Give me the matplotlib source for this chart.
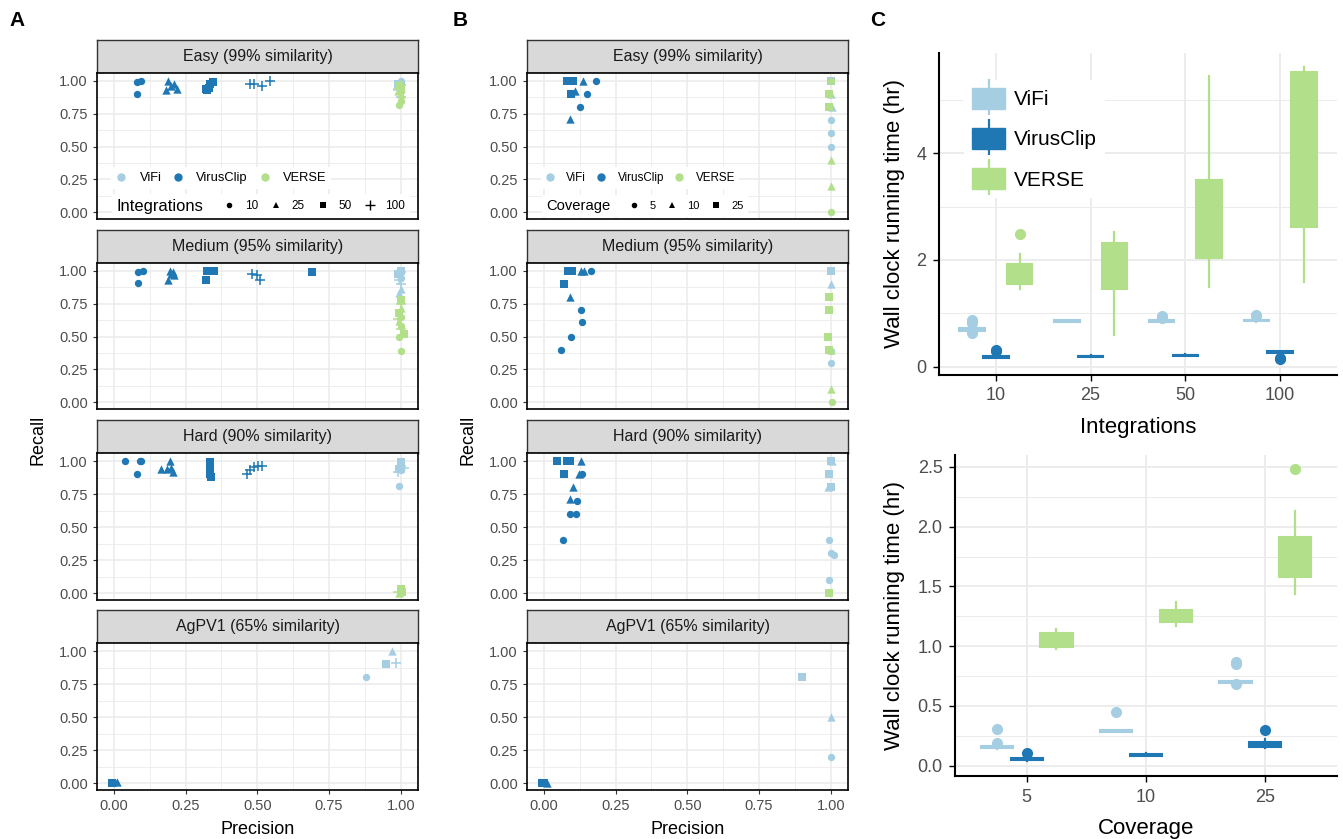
import numpy as np
import matplotlib.pyplot as plt
from matplotlib.lines import Line2D
from matplotlib.patches import Patch
from matplotlib.legend_handler import HandlerTuple
from matplotlib.offsetbox import HPacker

plt.rcParams['font.family'] = ['Liberation Sans', 'DejaVu Sans']

tools = ["ViFi", "VirusClip", "VERSE"]
tool_colors = ["#A6CEE3", "#1F78B4", "#B2DF8A"]
facet_titles = ["Easy (99% similarity)", "Medium (95% similarity)",
                "Hard (90% similarity)", "AgPV1 (65% similarity)"]

# panel A: (tool, integrations, precision, recall)
int_levels = [10, 25, 50, 100]
int_shapes = ['o', '^', 's', '+']
int_easy = [
    ("ViFi", 10, 1.0, 1.0), ("ViFi", 10, 0.99, 0.97), ("ViFi", 10, 1.0, 0.92),
    ("ViFi", 25, 0.995, 0.99), ("ViFi", 25, 1.0, 0.95),
    ("ViFi", 50, 0.99, 0.98), ("ViFi", 50, 1.0, 0.96),
    ("ViFi", 100, 1.0, 0.97), ("ViFi", 100, 0.99, 0.93), ("ViFi", 100, 1.0, 0.88),
    ("VirusClip", 10, 0.08, 0.99), ("VirusClip", 10, 0.095, 1.0), ("VirusClip", 10, 0.08, 0.90),
    ("VirusClip", 25, 0.19, 1.0), ("VirusClip", 25, 0.21, 0.98), ("VirusClip", 25, 0.18, 0.93),
    ("VirusClip", 25, 0.22, 0.94), ("VirusClip", 25, 0.20, 0.96),
    ("VirusClip", 50, 0.32, 0.94), ("VirusClip", 50, 0.335, 0.98), ("VirusClip", 50, 0.345, 0.99),
    ("VirusClip", 50, 0.33, 0.95), ("VirusClip", 50, 0.325, 0.93),
    ("VirusClip", 100, 0.475, 0.975), ("VirusClip", 100, 0.49, 0.975),
    ("VirusClip", 100, 0.515, 0.96), ("VirusClip", 100, 0.545, 1.0),
    ("VERSE", 10, 1.0, 0.95), ("VERSE", 10, 0.995, 0.82), ("VERSE", 10, 1.0, 0.85),
    ("VERSE", 25, 1.0, 0.90), ("VERSE", 25, 0.99, 0.92),
    ("VERSE", 50, 1.0, 0.93), ("VERSE", 50, 0.995, 0.96),
    ("VERSE", 100, 1.0, 0.97), ("VERSE", 100, 0.99, 0.94),
]
int_medium = [
    ("ViFi", 10, 1.0, 1.0), ("ViFi", 10, 0.995, 0.97), ("ViFi", 10, 1.0, 0.95),
    ("ViFi", 25, 1.0, 0.86), ("ViFi", 25, 0.995, 0.83),
    ("ViFi", 50, 1.0, 1.0), ("ViFi", 50, 0.99, 0.98),
    ("ViFi", 100, 1.0, 0.99), ("ViFi", 100, 0.995, 0.93), ("ViFi", 100, 1.0, 0.90),
    ("VirusClip", 10, 0.085, 0.99), ("VirusClip", 10, 0.10, 1.0), ("VirusClip", 10, 0.083, 0.91),
    ("VirusClip", 25, 0.195, 1.0), ("VirusClip", 25, 0.20, 0.98), ("VirusClip", 25, 0.19, 0.93),
    ("VirusClip", 25, 0.21, 0.97), ("VirusClip", 25, 0.205, 0.99),
    ("VirusClip", 50, 0.325, 1.0), ("VirusClip", 50, 0.35, 1.0), ("VirusClip", 50, 0.32, 0.93),
    ("VirusClip", 50, 0.69, 0.99),
    ("VirusClip", 100, 0.48, 0.975), ("VirusClip", 100, 0.50, 0.97), ("VirusClip", 100, 0.51, 0.935),
    ("VERSE", 10, 1.0, 0.58), ("VERSE", 10, 0.995, 0.50), ("VERSE", 10, 1.0, 0.39), ("VERSE", 10, 1.0, 0.65),
    ("VERSE", 25, 1.0, 0.72), ("VERSE", 25, 0.995, 0.62),
    ("VERSE", 50, 1.0, 0.78), ("VERSE", 50, 0.995, 0.68), ("VERSE", 50, 1.01, 0.52),
    ("VERSE", 100, 1.0, 0.75), ("VERSE", 100, 0.99, 0.63), ("VERSE", 100, 1.0, 0.56),
]
int_hard = [
    ("ViFi", 10, 1.0, 1.0), ("ViFi", 10, 0.995, 0.81), ("ViFi", 10, 1.0, 0.93),
    ("ViFi", 25, 1.0, 0.97), ("ViFi", 25, 0.99, 0.95),
    ("ViFi", 50, 1.0, 0.99), ("ViFi", 50, 0.995, 0.94),
    ("ViFi", 100, 1.0, 0.96), ("ViFi", 100, 0.99, 0.92), ("ViFi", 100, 1.01, 0.95),
    ("VirusClip", 10, 0.04, 1.0), ("VirusClip", 10, 0.09, 1.0), ("VirusClip", 10, 0.095, 1.0),
    ("VirusClip", 10, 0.08, 0.90),
    ("VirusClip", 25, 0.165, 0.94), ("VirusClip", 25, 0.195, 1.0), ("VirusClip", 25, 0.185, 0.94),
    ("VirusClip", 25, 0.20, 0.95), ("VirusClip", 25, 0.205, 0.92),
    ("VirusClip", 50, 0.335, 0.99), ("VirusClip", 50, 0.335, 0.96), ("VirusClip", 50, 0.335, 0.93),
    ("VirusClip", 50, 0.335, 0.90), ("VirusClip", 50, 0.337, 0.88),
    ("VirusClip", 100, 0.463, 0.905), ("VirusClip", 100, 0.474, 0.935), ("VirusClip", 100, 0.49, 0.955),
    ("VirusClip", 100, 0.503, 0.96), ("VirusClip", 100, 0.515, 0.965),
    ("VERSE", 10, 1.0, 0.0), ("VERSE", 25, 1.0, 0.02), ("VERSE", 25, 0.995, 0.0),
    ("VERSE", 50, 1.0, 0.03), ("VERSE", 50, 1.005, 0.01), ("VERSE", 100, 0.99, 0.01),
]
int_agpv = [
    ("ViFi", 10, 0.88, 0.80), ("ViFi", 25, 0.97, 1.0), ("ViFi", 50, 0.95, 0.90), ("ViFi", 100, 0.985, 0.91),
    ("VirusClip", 10, 0.0, 0.0), ("VirusClip", 25, 0.01, 0.01), ("VirusClip", 50, -0.005, 0.0),
]

# panel B: (tool, coverage, precision, recall)
cov_levels = [5, 10, 25]
cov_shapes = ['o', '^', 's']
cov_easy = [
    ("ViFi", 25, 1.0, 1.0), ("ViFi", 10, 1.0, 0.9), ("ViFi", 10, 1.005, 0.8),
    ("ViFi", 5, 1.0, 0.7), ("ViFi", 5, 1.0, 0.6), ("ViFi", 5, 1.0, 0.5),
    ("VirusClip", 25, 0.08, 1.0), ("VirusClip", 25, 0.10, 1.0), ("VirusClip", 25, 0.093, 0.9),
    ("VirusClip", 10, 0.135, 1.0), ("VirusClip", 10, 0.108, 0.92), ("VirusClip", 10, 0.091, 0.71),
    ("VirusClip", 5, 0.18, 1.0), ("VirusClip", 5, 0.149, 0.9), ("VirusClip", 5, 0.126, 0.8),
    ("VERSE", 5, 1.0, 1.0), ("VERSE", 5, 1.0, 0.0), ("VERSE", 25, 0.995, 0.9),
    ("VERSE", 25, 0.995, 0.8), ("VERSE", 10, 1.0, 0.4), ("VERSE", 10, 1.0, 0.2),
]
cov_medium = [
    ("ViFi", 25, 1.0, 1.0), ("ViFi", 10, 1.0, 0.9), ("ViFi", 5, 1.0, 0.3), ("ViFi", 5, 1.0, 0.39),
    ("VirusClip", 25, 0.085, 1.0), ("VirusClip", 25, 0.097, 1.0), ("VirusClip", 25, 0.071, 0.9),
    ("VirusClip", 10, 0.129, 1.0), ("VirusClip", 10, 0.138, 1.0), ("VirusClip", 10, 0.091, 0.8),
    ("VirusClip", 5, 0.164, 1.0), ("VirusClip", 5, 0.129, 0.7), ("VirusClip", 5, 0.133, 0.61),
    ("VirusClip", 5, 0.094, 0.5), ("VirusClip", 5, 0.059, 0.4),
    ("VERSE", 25, 0.995, 0.8), ("VERSE", 25, 0.995, 0.7), ("VERSE", 25, 0.99, 0.5),
    ("VERSE", 25, 0.995, 0.4), ("VERSE", 10, 1.0, 0.4), ("VERSE", 10, 1.0, 0.1), ("VERSE", 5, 1.005, 0.0),
]
cov_hard = [
    ("ViFi", 25, 1.0, 1.0), ("ViFi", 25, 0.995, 0.9), ("ViFi", 25, 1.0, 0.8),
    ("ViFi", 10, 1.005, 1.0), ("ViFi", 10, 0.99, 0.8),
    ("ViFi", 5, 0.995, 0.4), ("ViFi", 5, 1.0, 0.3), ("ViFi", 5, 1.01, 0.29), ("ViFi", 5, 0.995, 0.1),
    ("VirusClip", 25, 0.044, 1.0), ("VirusClip", 25, 0.079, 1.0), ("VirusClip", 25, 0.091, 1.0),
    ("VirusClip", 25, 0.071, 0.9),
    ("VirusClip", 10, 0.129, 1.0), ("VirusClip", 10, 0.124, 0.9), ("VirusClip", 10, 0.10, 0.8),
    ("VirusClip", 10, 0.091, 0.71),
    ("VirusClip", 5, 0.132, 0.9), ("VirusClip", 5, 0.117, 0.7), ("VirusClip", 5, 0.111, 0.6),
    ("VirusClip", 5, 0.091, 0.6), ("VirusClip", 5, 0.065, 0.4),
    ("VERSE", 25, 0.995, 0.0),
]
cov_agpv = [
    ("ViFi", 25, 0.9, 0.8), ("ViFi", 10, 1.0, 0.5), ("ViFi", 5, 1.0, 0.2),
    ("VirusClip", 25, -0.008, 0.0), ("VirusClip", 25, 0.0, 0.0), ("VirusClip", 10, 0.01, 0.0),
]

# panel C: run times, (whislo, q1, med, q3, whishi) per level, plus outliers
time_int_vifi = [(0.67, 0.68, 0.70, 0.72, 0.73), (0.845, 0.85, 0.86, 0.87, 0.875),
                 (0.845, 0.85, 0.86, 0.87, 0.88), (0.85, 0.86, 0.87, 0.88, 0.89)]
time_int_vifi_out = [[0.88, 0.83, 0.63], [], [0.92, 0.95], [0.95, 0.97]]
time_int_vclip = [(0.16, 0.17, 0.19, 0.21, 0.22), (0.18, 0.19, 0.20, 0.21, 0.22),
                  (0.20, 0.21, 0.22, 0.23, 0.24), (0.25, 0.26, 0.28, 0.29, 0.30)]
time_int_vclip_out = [[0.31, 0.29], [], [], [0.14, 0.16]]
time_int_verse = [(1.45, 1.56, 1.75, 1.92, 2.12), (0.59, 1.45, 1.90, 2.32, 2.53),
                  (1.49, 2.04, 2.60, 3.50, 5.44), (1.59, 2.62, 3.80, 5.52, 5.60)]
time_int_verse_out = [[2.48], [], [], []]

time_cov_vifi = [(0.14, 0.145, 0.155, 0.165, 0.17), (0.28, 0.285, 0.29, 0.295, 0.30),
                 (0.69, 0.69, 0.70, 0.71, 0.71)]
time_cov_vifi_out = [[0.31, 0.19], [0.45], [0.85, 0.87, 0.68]]
time_cov_vclip = [(0.04, 0.045, 0.055, 0.065, 0.07), (0.08, 0.08, 0.09, 0.10, 0.11),
                  (0.15, 0.16, 0.18, 0.20, 0.22)]
time_cov_vclip_out = [[0.11], [], [0.30]]
time_cov_verse = [(0.98, 0.99, 1.05, 1.11, 1.14), (1.17, 1.20, 1.25, 1.30, 1.37),
                  (1.44, 1.575, 1.75, 1.915, 2.13)]
time_cov_verse_out = [[], [], [2.48]]

W, H = 1343, 839
fig = plt.figure(figsize=(W / 100, H / 100), dpi=100)


def px_box(l, t, r, b):
    return [l / W, 1 - b / H, (r - l) / W, (b - t) / H]


# strip top, panel top, panel bottom (pixels)
rows = [(40, 73, 219), (230, 263, 409), (420, 453, 600), (610, 643, 790)]
GRID = '#EBEBEB'
TICK_TXT = '#4D4D4D'


def side_legends(ax, levels, shapes, title, fs_tool, fs_lev, fs_title, x0, sep):
    h = [Line2D([], [], marker='o', ls='none', color=c, markersize=5) for c in tool_colors]
    leg1 = ax.legend(h, tools, loc='center left', bbox_to_anchor=(x0, 0.28), ncol=3,
                     fontsize=fs_tool, handlelength=0.8, handletextpad=1.0, columnspacing=0.9,
                     borderpad=0.4, fancybox=False, edgecolor='none', facecolor='white',
                     framealpha=1)
    ax.add_artist(leg1)
    sizes = {'o': 4, '^': 4.5, 's': 4, '+': 7}
    h2 = [Line2D([], [], marker=mk, ls='none', color='black', markersize=sizes[mk],
                 markeredgewidth=1.0 if mk == '+' else 0) for mk in shapes]
    leg2 = ax.legend(h2, [str(l) for l in levels], title=title, title_fontsize=fs_title,
                     loc='center left', bbox_to_anchor=(x0 + 0.004, 0.089), ncol=len(levels),
                     fontsize=fs_lev, handlelength=0.8, handletextpad=0.95, columnspacing=1.1,
                     borderpad=0.4, fancybox=False, edgecolor='none', facecolor='white',
                     framealpha=1)
    # title to the left of the keys rather than above them
    box = HPacker(pad=leg2.borderpad * leg2._fontsize, sep=sep, align='center',
                  children=[leg2._legend_title_box, leg2._legend_handle_box])
    box.set_figure(fig)
    box.axes = ax
    leg2._legend_box = box
    box.set_offset(leg2._findoffset)


def draw_column(left, right, facets, levels, shapes, title, legend_fonts, x0, sep, label_x):
    ticks = [0, 0.25, 0.5, 0.75, 1.0]
    for i, ((st, pt, pb), data) in enumerate(zip(rows, facets)):
        sax = fig.add_axes(px_box(left, st, right, pt))
        sax.set_facecolor('#D9D9D9')
        sax.set_xticks([])
        sax.set_yticks([])
        for s in sax.spines.values():
            s.set_color('#333333')
            s.set_linewidth(1.0)
        sax.text(0.5, 0.5, facet_titles[i], ha='center', va='center', fontsize=11.5,
                 color='#1A1A1A', transform=sax.transAxes)

        ax = fig.add_axes(px_box(left, pt, right, pb))
        ax.set_xlim(-0.059, 1.06)
        ax.set_ylim(-0.053, 1.061)
        ax.set_xticks(ticks)
        ax.set_yticks(ticks)
        ax.set_xticks([0.125, 0.375, 0.625, 0.875], minor=True)
        ax.set_yticks([0.125, 0.375, 0.625, 0.875], minor=True)
        ax.set_xticklabels(['0.00', '0.25', '0.50', '0.75', '1.00'])
        ax.set_yticklabels(['0.00', '0.25', '0.50', '0.75', '1.00'])
        ax.grid(which='major', color=GRID, lw=1.1)
        ax.grid(which='minor', color=GRID, lw=0.6)
        ax.set_axisbelow(True)
        ax.tick_params(which='minor', length=0)
        ax.tick_params(which='major', length=3, width=0.8, color='#333333',
                       labelsize=10.5, labelcolor=TICK_TXT)
        ax.tick_params(axis='x', bottom=(i == 3), labelbottom=(i == 3))
        for s in ax.spines.values():
            s.set_color('black')
            s.set_linewidth(1.2)
        for tool, col in zip(tools, tool_colors):
            for lev, mk in zip(levels, shapes):
                pts = [(p, r) for t, l, p, r in data if t == tool and l == lev]
                if not pts:
                    continue
                p, r = zip(*pts)
                if mk == '+':
                    ax.scatter(p, r, marker='+', s=60, color=col, linewidths=1.1, zorder=3)
                else:
                    ax.scatter(p, r, marker=mk, s={'o': 28, '^': 36, 's': 28}[mk],
                               color=col, linewidths=0, zorder=3)
        if i == 0:
            side_legends(ax, levels, shapes, title, *legend_fonts, x0, sep)
    fig.text(label_x / W, 1 - 440 / H, 'Recall', rotation=90, ha='center', va='center',
             fontsize=13)
    fig.text((left + right) / 2 / W, 1 - 829 / H, 'Precision', ha='center', va='center',
             fontsize=13)


draw_column(97, 418, [int_easy, int_medium, int_hard, int_agpv], int_levels, int_shapes,
            'Integrations', (9.3, 8.5, 11.9), 0.024, 15, 38)
draw_column(527, 848, [cov_easy, cov_medium, cov_hard, cov_agpv], cov_levels, cov_shapes,
            'Coverage', (8.4, 8.0, 10.6), 0.024, 14, 468)


def draw_times(ax, levels, boxes, outs, ylim, major, minor, xlabel):
    pos = np.arange(1, len(levels) + 1)
    for j, (c, bx, ot) in enumerate(zip(tool_colors, boxes, outs)):
        stats = [dict(whislo=b[0], q1=b[1], med=b[2], q3=b[3], whishi=b[4], fliers=o)
                 for b, o in zip(bx, ot)]
        ax.bxp(stats, positions=pos + (j - 1) * 0.25, widths=0.27, patch_artist=True,
               showcaps=False, manage_ticks=False,
               boxprops=dict(facecolor=c, edgecolor=c, linewidth=1.5),
               whiskerprops=dict(color=c, linewidth=1.6),
               medianprops=dict(color=c, linewidth=1.5),
               flierprops=dict(marker='o', markerfacecolor=c, markeredgecolor=c,
                               markersize=7, linestyle='none'))
    ax.set_xlim(0.4, len(levels) + 0.6)
    ax.set_ylim(*ylim)
    ax.set_xticks(pos)
    ax.set_xticklabels([str(l) for l in levels])
    ax.set_yticks(major)
    ax.set_yticks(minor, minor=True)
    ax.grid(which='major', color=GRID, lw=1.3)
    ax.grid(which='minor', axis='y', color=GRID, lw=0.7)
    ax.set_axisbelow(True)
    ax.tick_params(which='minor', length=0)
    ax.tick_params(which='major', length=4, width=1.0, color='black', labelsize=13,
                   labelcolor=TICK_TXT, pad=5)
    for s in ['top', 'right']:
        ax.spines[s].set_visible(False)
    for s in ['left', 'bottom']:
        ax.spines[s].set_linewidth(1.5)
    ax.set_xlabel(xlabel, fontsize=16, labelpad=9)
    ax.set_ylabel('Wall clock running time (hr)', fontsize=16)


ax_int = fig.add_axes(px_box(939, 53, 1337, 375))
draw_times(ax_int, int_levels, [time_int_vifi, time_int_vclip, time_int_verse],
           [time_int_vifi_out, time_int_vclip_out, time_int_verse_out],
           (-0.15, 5.87), [0, 2, 4], [1, 3, 5], 'Integrations')
ax_int.yaxis.set_label_coords(-0.085, 0.5)

ax_cov = fig.add_axes(px_box(955, 455, 1337, 776))
draw_times(ax_cov, cov_levels, [time_cov_vifi, time_cov_vclip, time_cov_verse],
           [time_cov_vifi_out, time_cov_vclip_out, time_cov_verse_out],
           (-0.086, 2.6), [0, 0.5, 1.0, 1.5, 2.0, 2.5], [0.25, 0.75, 1.25, 1.75, 2.25],
           'Coverage')
ax_cov.set_yticklabels(['0.0', '0.5', '1.0', '1.5', '2.0', '2.5'])
ax_cov.yaxis.set_label_coords(-0.131, 0.5)

box_keys = [(Line2D([], [], color=c, marker='|', markersize=26, markeredgewidth=1.6, ls='none'),
             Patch(facecolor=c, edgecolor=c)) for c in tool_colors]
ax_int.legend(box_keys, tools, handler_map={tuple: HandlerTuple(ndivide=1, pad=0)},
              loc='upper left', bbox_to_anchor=(0.037, 0.95), fontsize=15,
              handlelength=1.55, handleheight=1.15, labelspacing=0.9, handletextpad=0.45,
              borderpad=0.4, fancybox=False, edgecolor='none', facecolor='white', framealpha=1)

for letter, x in [('A', 17), ('B', 460), ('C', 878)]:
    fig.text(x / W, 1 - 20 / H, letter, ha='center', va='center', fontsize=15,
             fontweight='bold')

fig.savefig('out.png', dpi=100)
